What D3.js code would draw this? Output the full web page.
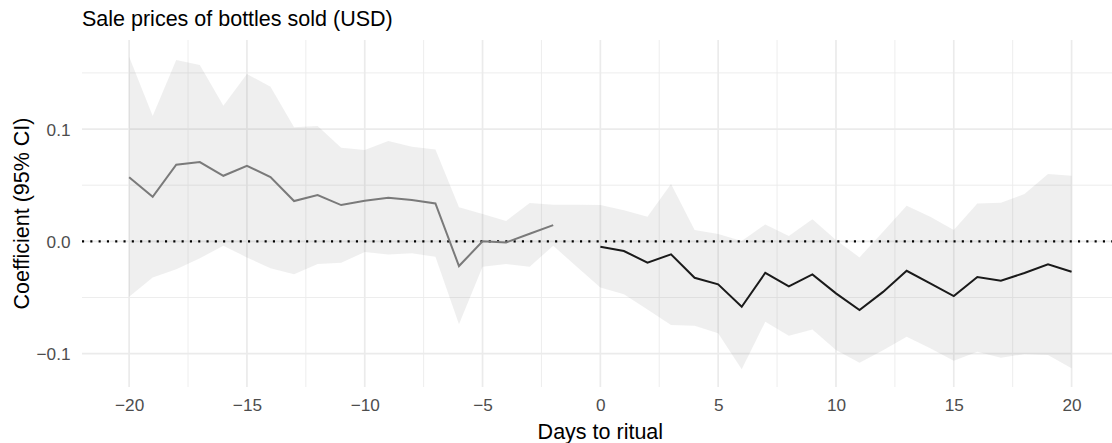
<!DOCTYPE html>
<html>
<head>
<meta charset="utf-8">
<script src="https://cdn.jsdelivr.net/npm/d3@7"></script>
<style>
  html, body { margin: 0; padding: 0; background: #fff; }
  svg { display: block; font-family: "Liberation Sans", Arial, sans-serif; }
</style>
</head>
<body>
<svg id="chart" width="1112" height="443"></svg>
<script>
// ---- data ----
const preDays = [-20,-19,-18,-17,-16,-15,-14,-13,-12,-11,-10,-9,-8,-7,-6,-5,-4,-3,-2];
const preEst  = [0.057,0.0397,0.0682,0.0706,0.0584,0.0673,0.0572,0.0359,0.0412,0.0323,0.0362,0.0389,0.0368,0.0338,-0.022,0.0,-0.001,0.0068,0.0145];
const postDays = [0,1,2,3,4,5,6,7,8,9,10,11,12,13,14,15,16,17,18,19,20];
const postEst  = [-0.0048,-0.0086,-0.019,-0.0116,-0.0324,-0.0383,-0.0582,-0.028,-0.0401,-0.0294,-0.0463,-0.0612,-0.045,-0.0262,-0.0374,-0.0487,-0.0318,-0.0351,-0.0282,-0.0205,-0.0271];
const ciDays = [-20,-19,-18,-17,-16,-15,-14,-13,-12,-11,-10,-9,-8,-7,-6,-5,-4,-3,-2,-1,0,1,2,3,4,5,6,7,8,9,10,11,12,13,14,15,16,17,18,19,20];
const ciUpper = [0.1644,0.1116,0.1614,0.157,0.1208,0.149,0.1377,0.1015,0.1027,0.0834,0.0813,
                 0.0893,0.0843,0.0819,0.0303,0.0243,0.0181,0.0341,0.0326,0.0326,
                 0.0323,0.0277,0.0219,0.051,0.0101,0.0065,0.0003,0.0151,0.0047,0.0196,0.0012,-0.0143,0.0086,0.0317,0.0219,0.0101,0.0338,0.0344,0.0421,0.0599,0.0584];
const ciLower = [-0.0493,-0.0321,-0.0249,-0.0151,-0.0039,-0.0143,-0.024,-0.0294,-0.0202,-0.019,-0.0095,
                 -0.0116,-0.0107,-0.0137,-0.0739,-0.0226,-0.0202,-0.0226,-0.0039,-0.0226,
                 -0.041,-0.047,-0.0606,-0.0745,-0.0751,-0.0819,-0.114,-0.0716,-0.084,-0.0784,-0.0968,-0.108,-0.097,-0.085,-0.0953,-0.1063,-0.0983,-0.1036,-0.1004,-0.1012,-0.1131];
const xTicks = [-20,-15,-10,-5,0,5,10,15,20];
const xTickLabels = ["\u221220","\u221215","\u221210","\u22125","0","5","10","15","20"];
const xMinor = [-17.5,-12.5,-7.5,-2.5,2.5,7.5,12.5,17.5];
const yTicks = [-0.1,0,0.1];
const yTickLabels = ["\u22120.1","0.0","0.1"];
const yMinor = [-0.05,0.05,0.15];
const titleText = "Sale prices of bottles sold (USD)";
const xTitle = "Days to ritual";
const yTitle = "Coefficient (95% CI)";

// ---- layout ----
const W = 1112, H = 443;
const panel = {left: 82, right: 1118.7, top: 40, bottom: 387};
const x = d3.scaleLinear().domain([-22, 22]).range([panel.left, panel.right]);
const y = d3.scaleLinear().domain([-0.1297, 0.1793]).range([panel.bottom, panel.top]);

const svg = d3.select("#chart");
svg.append("defs").append("clipPath").attr("id","clip")
  .append("rect").attr("x",panel.left).attr("y",panel.top)
  .attr("width",W - panel.left).attr("height",panel.bottom-panel.top);

const grid = svg.append("g");
// minor grid
grid.selectAll(".ym").data(yMinor).join("line")
  .attr("x1",panel.left).attr("x2",W).attr("y1",d=>y(d)).attr("y2",d=>y(d))
  .attr("stroke","#ebebeb").attr("stroke-width",0.9);
grid.selectAll(".xm").data(xMinor).join("line")
  .attr("y1",panel.top).attr("y2",panel.bottom).attr("x1",d=>x(d)).attr("x2",d=>x(d))
  .attr("stroke","#ebebeb").attr("stroke-width",0.9);
// major grid
grid.selectAll(".yM").data(yTicks).join("line")
  .attr("x1",panel.left).attr("x2",W).attr("y1",d=>y(d)).attr("y2",d=>y(d))
  .attr("stroke","#ebebeb").attr("stroke-width",1.7);
grid.selectAll(".xM").data(xTicks).join("line")
  .attr("y1",panel.top).attr("y2",panel.bottom).attr("x1",d=>x(d)).attr("x2",d=>x(d))
  .attr("stroke","#ebebeb").attr("stroke-width",1.7);

const plot = svg.append("g").attr("clip-path","url(#clip)");

// ribbon
const ci = ciDays.map((d,i)=>({d, lo: ciLower[i], hi: ciUpper[i]}));
plot.append("path").datum(ci)
  .attr("d", d3.area().x(p=>x(p.d)).y0(p=>y(p.lo)).y1(p=>y(p.hi)))
  .attr("fill","#7f7f7f").attr("fill-opacity",0.12);

// zero line
plot.append("line")
  .attr("x1",panel.left).attr("x2",W).attr("y1",y(0)).attr("y2",y(0))
  .attr("stroke","#000").attr("stroke-width",2.1).attr("stroke-dasharray","2.1 6.2");

// lines
const line = d3.line().x(p=>x(p[0])).y(p=>y(p[1]));
plot.append("path").datum(preDays.map((d,i)=>[d,preEst[i]]))
  .attr("d", line).attr("fill","none").attr("stroke","#7a7a7a").attr("stroke-width",2);
plot.append("path").datum(postDays.map((d,i)=>[d,postEst[i]]))
  .attr("d", line).attr("fill","none").attr("stroke","#1a1a1a").attr("stroke-width",2);

// axes (text only, ggplot minimal style)
const xAxis = d3.axisBottom(x).tickValues(xTicks).tickSize(0).tickPadding(0)
  .tickFormat((d,i)=>xTickLabels[i]);
const gx = svg.append("g").attr("transform",`translate(0,${panel.bottom})`).call(xAxis);
gx.select(".domain").remove();
gx.selectAll("text").attr("y",24).attr("dy",null)
  .attr("font-size","17.2px").attr("fill","#4d4d4d")
  .attr("font-family",'"Liberation Sans", Arial, sans-serif');

const yAxis = d3.axisLeft(y).tickValues(yTicks).tickSize(0).tickPadding(0)
  .tickFormat((d,i)=>yTickLabels[i]);
const gy = svg.append("g").attr("transform",`translate(${panel.left - 11.5},0)`).call(yAxis);
gy.select(".domain").remove();
gy.selectAll("text").attr("x",0).attr("dy","0.36em")
  .attr("font-size","17.2px").attr("fill","#4d4d4d")
  .attr("font-family",'"Liberation Sans", Arial, sans-serif');

// titles
svg.append("text").attr("x",panel.left).attr("y",26)
  .attr("font-size","21.5px").attr("fill","#000").text(titleText);
svg.append("text").attr("x",(panel.left+panel.right)/2).attr("y",439)
  .attr("text-anchor","middle").attr("font-size","21.5px").attr("fill","#000").text(xTitle);
svg.append("text").attr("transform",`translate(28.5,${(panel.top+panel.bottom)/2}) rotate(-90)`)
  .attr("text-anchor","middle").attr("font-size","21.5px").attr("fill","#000").text(yTitle);
</script>
</body>
</html>
